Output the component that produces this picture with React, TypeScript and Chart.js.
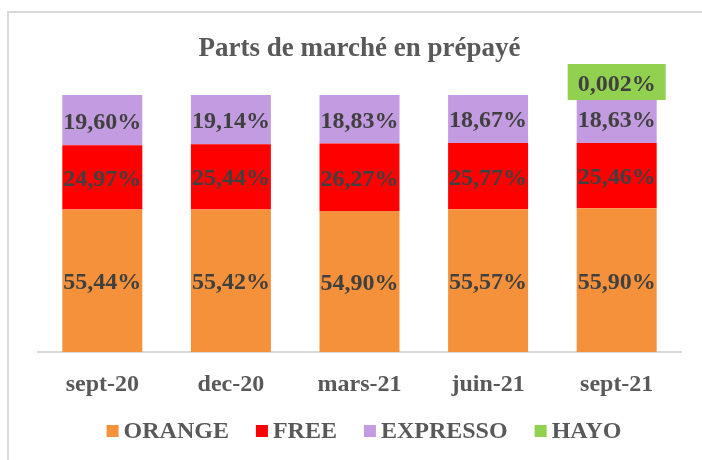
import React, { useEffect, useRef } from "react";
import { Chart, registerables } from "chart.js";

Chart.register(...registerables);

const categories = ["sept-20", "dec-20", "mars-21", "juin-21", "sept-21"];
const orangeValues = [55.44, 55.42, 54.9, 55.57, 55.9];
const freeValues = [24.97, 25.44, 26.27, 25.77, 25.46];
const expressoValues = [19.6, 19.14, 18.83, 18.67, 18.63];
const hayoValues = [0, 0, 0, 0, 0.002];
const seriesNames = ["ORANGE", "FREE", "EXPRESSO", "HAYO"];
const seriesColors = ["#F5913A", "#FF0000", "#C39BE0", "#92D050"];
const titleText = "Parts de marché en prépayé";

const FONT = "'Liberation Serif', 'Times New Roman', serif";

function fmt(v: number): string {
  const decimals = v < 0.01 ? 3 : 2;
  return v.toFixed(decimals).replace(".", ",") + "%";
}

const overlayPlugin = {
  id: "overlay",
  afterDatasetsDraw(chart: any) {
    const ctx = chart.ctx as CanvasRenderingContext2D;
    ctx.save();
    ctx.font = `bold 24px ${FONT}`;
    ctx.textAlign = "center";
    ctx.textBaseline = "alphabetic";
    chart.data.datasets.forEach((ds: any, di: number) => {
      const meta = chart.getDatasetMeta(di);
      meta.data.forEach((el: any, i: number) => {
        const v = ds.data[i] as number;
        if (!v) return;
        const txt = fmt(v);
        const { x, y, base } = el.getProps(["x", "y", "base"], true);
        if (di === 3) {
          const w = ctx.measureText(txt).width + 20;
          const h = 36;
          const bottom = y + 5;
          ctx.fillStyle = ds.backgroundColor;
          ctx.fillRect(x - w / 2, bottom - h, w, h);
          ctx.fillStyle = "#404040";
          ctx.fillText(txt, x, bottom - h / 2 + 8.5);
        } else {
          ctx.fillStyle = "#404040";
          ctx.fillText(txt, x, (y + base) / 2 + 8.5);
        }
      });
    });
    ctx.restore();
  },
  afterDraw(chart: any) {
    const ctx = chart.ctx as CanvasRenderingContext2D;
    const area = chart.chartArea;
    ctx.save();
    // title
    ctx.font = `bold 27px ${FONT}`;
    ctx.fillStyle = "#595959";
    ctx.textAlign = "center";
    ctx.textBaseline = "alphabetic";
    ctx.fillText(titleText, (area.left + area.right) / 2, 56);
    // legend
    ctx.font = `bold 24px ${FONT}`;
    ctx.textAlign = "left";
    const box = 12;
    const gapText = 5;
    const gapItem = 27;
    const items = chart.data.datasets.map((ds: any) => ({
      label: ds.label,
      color: ds.backgroundColor,
      w: ctx.measureText(ds.label).width,
    }));
    let total = 0;
    items.forEach((it: any, k: number) => {
      total += box + gapText + it.w + (k < items.length - 1 ? gapItem : 0);
    });
    let x = 364 - total / 2;
    const baseline = 438;
    items.forEach((it: any) => {
      ctx.fillStyle = it.color;
      ctx.fillRect(x, 425, box, box);
      ctx.fillStyle = "#595959";
      ctx.fillText(it.label, x + box + gapText, baseline);
      x += box + gapText + it.w + gapItem;
    });
    ctx.restore();
  },
};

export default function App() {
  const ref = useRef<HTMLCanvasElement | null>(null);
  useEffect(() => {
    if (!ref.current) return;
    const series = [orangeValues, freeValues, expressoValues, hayoValues];
    const chart = new Chart(ref.current, {
      type: "bar",
      data: {
        labels: categories,
        datasets: series.map((d, k) => ({
          label: seriesNames[k],
          data: d,
          backgroundColor: seriesColors[k],
          borderWidth: 0,
          categoryPercentage: 1,
          barPercentage: 0.622,
        })),
      },
      options: {
        animation: false,
        responsive: false,
        maintainAspectRatio: false,
        layout: { padding: { top: 95, left: 38, right: 21, bottom: 0 } },
        plugins: {
          legend: { display: false },
          title: { display: false },
          tooltip: { enabled: false },
        },
        scales: {
          x: {
            stacked: true,
            grid: { display: false, drawTicks: false },
            border: { display: true, color: "#d9d9d9", width: 2 },
            ticks: {
              color: "#595959",
              font: { family: FONT, size: 24, weight: "bold" },
              padding: 18,
              maxRotation: 0,
            },
            afterFit: (scale: any) => {
              scale.height = 108;
            },
          },
          y: {
            stacked: true,
            display: false,
            min: 0,
            max: 100,
          },
        },
      },
      plugins: [overlayPlugin],
    });
    return () => chart.destroy();
  }, []);
  return (
    <div
      style={{
        position: "fixed",
        left: 0,
        top: 0,
        width: 702,
        height: 460,
        overflow: "hidden",
        background: "#ffffff",
      }}
    >
      <div
        style={{
          position: "absolute",
          left: 7,
          top: 11,
          width: 720,
          height: 480,
          border: "2px solid #d9d9d9",
          boxSizing: "border-box",
        }}
      />
      <canvas
        ref={ref}
        width={702}
        height={460}
        style={{ position: "absolute", left: 0, top: 0, width: 702, height: 460 }}
      />
    </div>
  );
}
